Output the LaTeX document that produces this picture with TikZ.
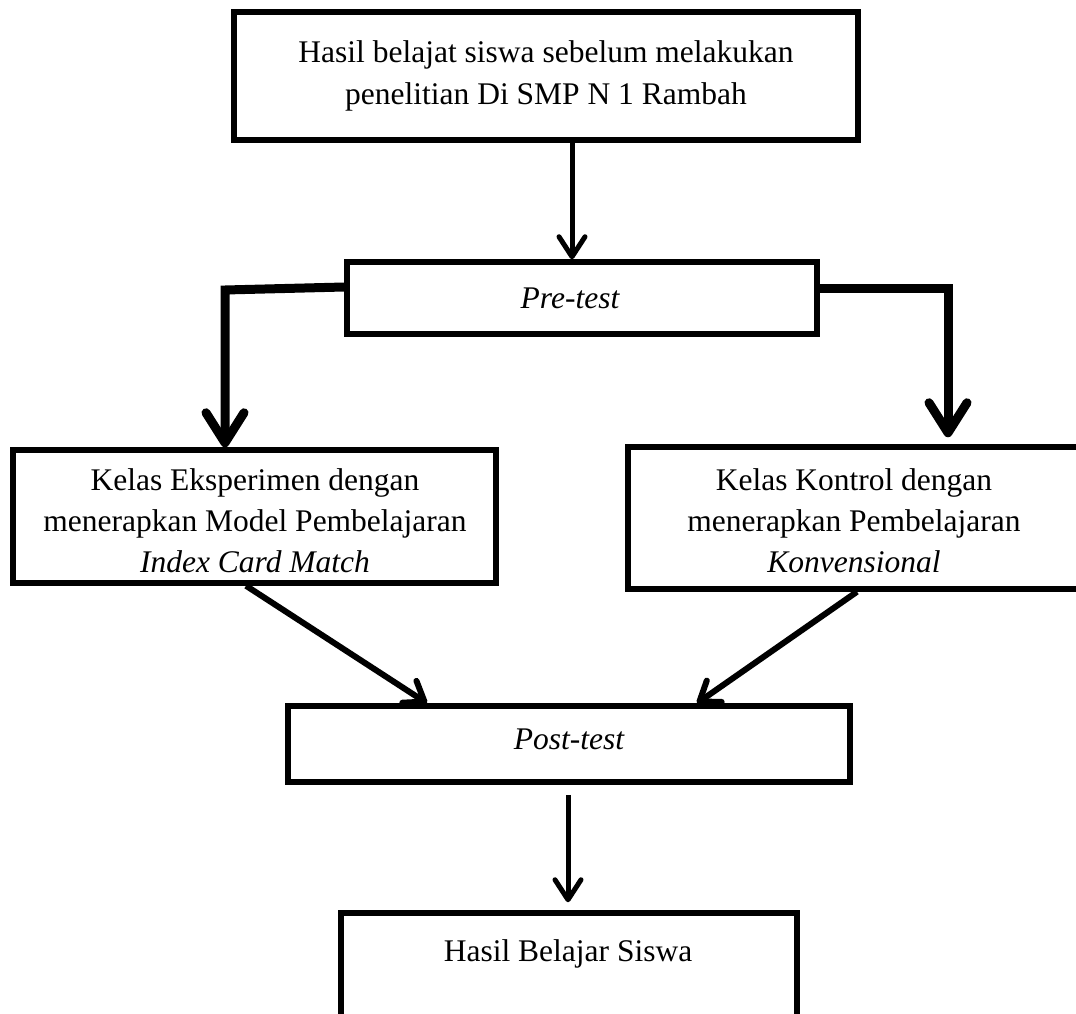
\documentclass[tikz,border=0pt]{standalone}
\usepackage{fontspec}
\setmainfont{Liberation Serif}
\usetikzlibrary{arrows.meta}
\tikzset{
  box/.style={draw, line width=5.5pt, inner sep=0pt, align=center},
  txt/.style={inner sep=0pt, align=center},
  thinarr/.style={line width=5pt, -{Straight Barb[length=20pt,width=26pt,line width=5pt,round]}},
  diagarr/.style={line width=6pt, -{Straight Barb[length=18pt,width=26pt,line width=6pt,round]}},
  bigarr/.style={line width=9pt, -{Straight Barb[length=30pt,width=38pt,line width=9pt,round]}},
}

\begin{document}
\begin{tikzpicture}[x=1pt,y=-1pt,font=\fontsize{31.5}{40}\selectfont]
  \clip (0,0) rectangle (1076,1014);
  \fill[white] (0,0) rectangle (1076,1014);
  % boxes
  \node[box, minimum width=624, minimum height=128] (top) at (546,76)
    {Hasil belajat siswa sebelum melakukan\\[2pt]penelitian Di SMP N 1 Rambah};
  \node[box, minimum width=470, minimum height=72] (pre) at (582,298) {};
  \node[txt] (pretxt) at (570,298) {\itshape Pre-test};
  \node[box, minimum width=483, minimum height=133] (eks) at (254.5,516.5) {};
  \node[txt] (ekstxt) at (255,521)
    {Kelas Eksperimen dengan\\[1pt]menerapkan Model Pembelajaran\\[1pt]\itshape Index Card Match};
  \node[box, minimum width=454, minimum height=142] (kon) at (855,518) {};
  \node[txt] (kontxt) at (854,521)
    {Kelas Kontrol dengan\\[1pt]menerapkan Pembelajaran\\[1pt]\itshape Konvensional};
  \node[box, minimum width=562, minimum height=76] (post) at (569,744) {};
  \node[txt] (posttxt) at (569,739) {\itshape Post-test};
  \node[box, minimum width=456, minimum height=117] (hasil) at (569,971.5) {};
  \node[txt] (hasiltxt) at (568,954) {Hasil Belajar Siswa};
  % connectors
  \draw[thinarr] (top.south -| 572,0) -- (pre.north -| 572,0);
  \draw[bigarr, line join=miter] (pre.west |- 0,287) -- (225,290) -- (eks.north -| 225,0);
  \draw[bigarr, line join=miter, shorten >=7pt] (pre.east |- 0,288) -- (948,288) -- (kon.north -| 948,0);
  \draw[diagarr] (eks.south -| 246,0) -- (post.north -| 427,0);
  \draw[diagarr] (kon.south -| 857,0) -- (post.north -| 697,0);
  \draw[thinarr, shorten <=10pt, shorten >=8pt] (post.south -| 568,0) -- (hasil.north -| 568,0);
\end{tikzpicture}
\end{document}
